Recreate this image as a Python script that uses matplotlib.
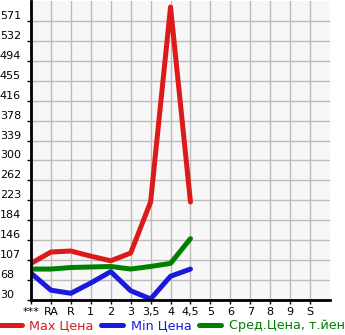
import matplotlib
matplotlib.use("Agg")
import matplotlib.pyplot as plt

kategorii = ["***", "RA", "R", "1", "2", "3", "3,5", "4", "4,5", "5", "6", "7", "8", "9", "S"]
y_metki = [30, 68, 107, 146, 184, 223, 262, 300, 339, 378, 416, 455, 494, 532, 571]

max_cena = [101, 123, 125, 115, 106, 121, 220, 598, 220]
min_cena = [82, 49, 43, 63, 85, 48, 32, 76, 90]
sred_cena = [90, 90, 93, 94, 95, 90, 95, 101, 149]

shag = (571 - 30) / 14

fig = plt.figure(figsize=(3.45, 3.35), dpi=100)
ax = fig.add_axes([31 / 345, 35 / 335, 299 / 345, 299 / 335])
ax.set_facecolor("#f7f7f7")

x = list(range(len(max_cena)))
ax.plot(x, max_cena, color="#dd1a1a", lw=3.6, solid_capstyle="round", label="Max Цена")
ax.plot(x, min_cena, color="#1a1add", lw=3.6, solid_capstyle="round", label="Min Цена")
ax.plot(x, sred_cena, color="#008000", lw=3.6, solid_capstyle="round", label="Сред.Цена, т.йен")

ax.set_xlim(0, 15)
ax.set_ylim(30, 30 + shag * 15)
ax.set_xticks(range(len(kategorii)))
ax.set_xticklabels(kategorii, fontsize=8)
ax.set_yticks([30 + shag * i for i in range(len(y_metki))])
ax.set_yticklabels(y_metki, fontsize=8, ha="left", va="bottom")
ax.grid(True, color="#bbbbbb", lw=1)
ax.set_axisbelow(True)
ax.tick_params(length=3, width=1)
ax.tick_params(axis="x", pad=2)
ax.tick_params(axis="y", pad=19.4)

for s in ["top", "right"]:
    ax.spines[s].set_visible(False)
ax.spines["left"].set_linewidth(2)
ax.spines["bottom"].set_linewidth(2)

leg = fig.legend(loc="center left", bbox_to_anchor=(0.0, 9 / 335), ncol=3, frameon=False,
                 fontsize=9.2, handlelength=1.7, handletextpad=0.6, columnspacing=0.6, borderaxespad=0,
                 borderpad=0)
for t, c in zip(leg.get_texts(), ["#dd1a1a", "#1a1add", "#008000"]):
    t.set_color(c)

fig.savefig("out.png", dpi=100)
